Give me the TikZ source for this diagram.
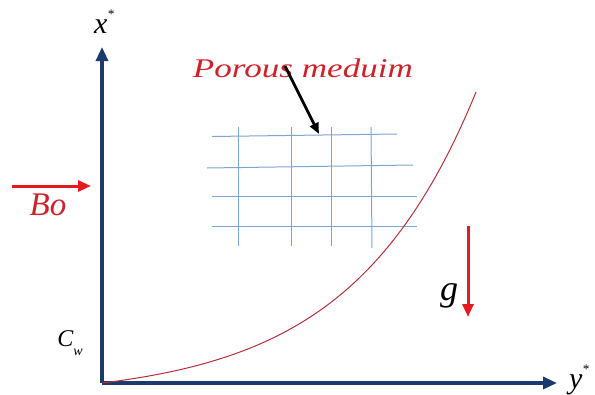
\documentclass[tikz,border=0pt]{standalone}
\usepackage{fontspec}
\setmainfont{Liberation Serif}
\usetikzlibrary{arrows.meta}
\definecolor{axisblue}{HTML}{1B3A6E}
\definecolor{arrred}{HTML}{E51A1F}
\definecolor{curvered}{HTML}{B0303A}
\definecolor{gridblue}{HTML}{7AA6CF}
\definecolor{labelred}{HTML}{CC2229}
\begin{document}
\begin{tikzpicture}[x=1pt,y=-1pt,
  axis/.style={draw=axisblue, line width=3.2pt, -{Triangle[length=14pt,width=12pt]}},
  force/.style={draw=arrred, line width=3pt, -{Triangle[length=13pt,width=11pt]}},
  gridline/.style={draw=gridblue, line width=1pt},
  pointer/.style={draw=black, line width=2.8pt, -{Triangle[length=11pt,width=9pt]}},
  lbl/.style={inner sep=0pt, font=\fontsize{30}{34}\selectfont\itshape}]
\useasboundingbox (0,0) rectangle (595,394);
% axes
\coordinate (O) at (102,383);
\coordinate (xtop) at (102,47);
\coordinate (yend) at (557,383);
\draw[axis] (O) -- (xtop);
\draw[axis] (O) -- (yend);
% grid (porous medium)
\draw[gridline] (212,136.5) -- (397,134);
\draw[gridline] (207,168) -- (413,165);
\draw[gridline] (212,196.5) -- (417,196.5);
\draw[gridline] (212,226) -- (417,226);
\draw[gridline] (238,127) -- (238,246);
\draw[gridline] (291,127) -- (291,246);
\draw[gridline] (331,127) -- (331,246);
\draw[gridline] (371,127) -- (372,248);
% concentration curve
\draw[curvered, line width=1pt] plot[domain=0:374, samples=120]
  ({102+\x},{383-15.4*(exp(0.008*\x)-1)});
% labels
\node[lbl] (xlab) at (104,22) {x\raisebox{0.5em}{\fontsize{13}{13}\selectfont *}};
\node[lbl] (ylab) at (579,380) {y\raisebox{0.5em}{\fontsize{13}{13}\selectfont *}};
\node[lbl, font=\fontsize{24}{28}\selectfont\itshape] (cw) at (70,343) {C\raisebox{-0.35em}{\fontsize{14}{14}\selectfont w}};
\node[lbl, text=labelred, font=\fontsize{33}{38}\selectfont\itshape] (bo) at (48,205) {Bo};
\node[lbl, text=black, font=\fontsize{36}{40}\selectfont\itshape] (g) at (449,296) {g};
\node[lbl, text=labelred, font=\fontsize{27}{30}\selectfont\itshape, xscale=1.3] (pm) at (303,68) {Porous meduim};
% arrows
\coordinate (b1) at (12,186);
\coordinate (b2) at (91,186);
\draw[force] (b1) -- (b2);
\coordinate (g1) at (468,226);
\coordinate (g2) at (468,317);
\draw[force] (g1) -- (g2);
\coordinate (p1) at (285,66);
\coordinate (p2) at (319,134);
\draw[pointer] (p1) -- (p2);
\end{tikzpicture}
\end{document}
